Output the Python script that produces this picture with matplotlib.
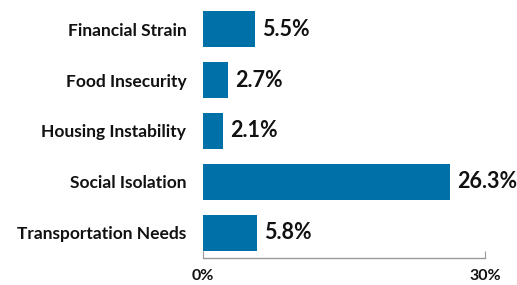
import matplotlib
matplotlib.use("Agg")
import matplotlib.pyplot as plt

# Data
categories = ["Financial Strain", "Food Insecurity", "Housing Instability",
              "Social Isolation", "Transportation Needs"]
values = [5.5, 2.7, 2.1, 26.3, 5.8]
xticks = [0, 30]
xtick_labels = ["0%", "30%"]

plt.rcParams["font.family"] = ["Lato", "DejaVu Sans"]

fig = plt.figure(figsize=(5.17, 2.85), dpi=100)
ax = fig.add_axes([0.3926, 0.0947, 0.5455, 0.892])

ypos = list(range(len(categories)))
ax.barh(ypos, values, height=0.71, color="#0070a8")

for y, v in zip(ypos, values):
    ax.annotate(f"{v}%", (v, y), xytext=(5, 0), textcoords="offset points",
                va="center", ha="left", fontsize=15.5, fontweight="bold", color="#111111")

ax.set_xlim(0, 30)
ax.set_ylim(4.5, -0.5)
ax.set_yticks(ypos)
ax.set_yticklabels(categories, fontsize=12.5, fontweight="bold", color="#111111")
ax.tick_params(axis="y", length=0, pad=12)

ax.set_xticks(xticks)
ax.set_xticklabels(xtick_labels, fontsize=11.5, fontweight="bold", color="#111111")
ax.tick_params(axis="x", direction="in", length=5, color="#999999", pad=8)

for s in ["top", "right", "left"]:
    ax.spines[s].set_visible(False)
ax.spines["bottom"].set_color("#999999")
ax.spines["bottom"].set_linewidth(1)

fig.savefig("out.png", dpi=100)
